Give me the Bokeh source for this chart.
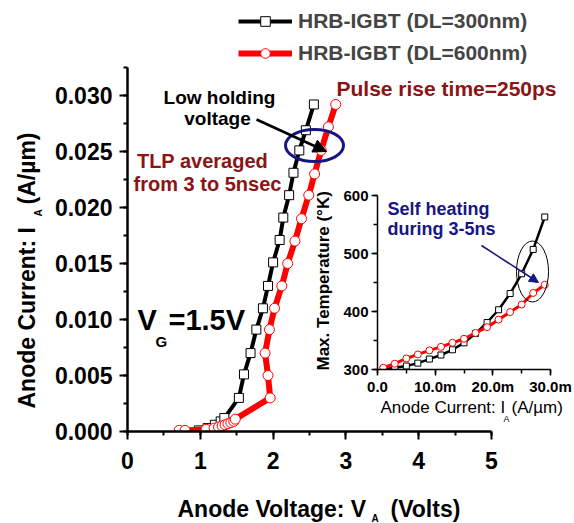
import math
from bokeh.plotting import figure
from bokeh.models import (FixedTicker, NumeralTickFormatter, Label, Arrow, NormalHead,
                          Legend, LegendItem, InlineStyleSheet)
from bokeh.embed import file_html
from bokeh.resources import INLINE

# ---------------- data ----------------
# main plot: anode voltage (V) vs anode current (A/um)
black_v = [0.98, 1.10, 1.20, 1.28, 1.33, 1.53, 1.60, 1.69, 1.77, 1.86, 1.93, 2.00,
           2.09, 2.14, 2.22, 2.28, 2.36, 2.45, 2.56]
black_i = [0.0001, 0.0003, 0.0006, 0.0009, 0.0012, 0.0030, 0.0051, 0.0070, 0.0091,
           0.0110, 0.0130, 0.0151, 0.0171, 0.0191, 0.0211, 0.0231, 0.0251, 0.0269, 0.0292]
red_v = [0.71, 0.79, 1.08, 1.19, 1.25, 1.30, 1.34, 1.38, 1.42, 1.46, 1.48, 1.96, 1.93,
         1.89, 1.95, 2.02, 2.12, 2.20, 2.30, 2.39, 2.49, 2.57, 2.66, 2.76, 2.86]
red_i = [0.0001, 0.0001, 0.0002, 0.0003, 0.0004, 0.0005, 0.0006, 0.0007, 0.0008, 0.0009,
         0.0011, 0.0030, 0.0050, 0.0070, 0.0091, 0.0110, 0.0130, 0.0150, 0.0170, 0.0190,
         0.0211, 0.0230, 0.0251, 0.0272, 0.0292]
x_ticks = [0, 1, 2, 3, 4, 5]
y_ticks = [0.0, 0.005, 0.010, 0.015, 0.020, 0.025, 0.030]

# inset: anode current (A/um) vs max temperature (K)
inset_i = [0.001, 0.003, 0.005, 0.007, 0.009, 0.011, 0.013, 0.015, 0.017, 0.019,
           0.021, 0.023, 0.025, 0.027, 0.029]
inset_black_t = [300.5, 303, 306, 311, 318, 325, 334, 346, 362, 381, 403, 431, 465, 507, 563]
inset_red_t = [303, 310, 319, 326, 333, 339, 346, 353, 363, 373, 386, 399, 412, 432, 446]
inset_x_ticks = [0.0, 0.01, 0.02, 0.03]
inset_x_labels = ["0.0", "10.0m", "20.0m", "30.0m"]
inset_y_ticks = [300, 400, 500, 600]

labels = ["HRB-IGBT (DL=300nm)", "HRB-IGBT (DL=600nm)"]

FONT = "Liberation Sans"
DARKRED = "#8b1414"
NAVY = "#161683"

W, H = 574, 523

def place(fig, left, top):
    fig.stylesheets = [InlineStyleSheet(
        css=":host { position: absolute !important; left: %dpx !important; top: %dpx !important; }"
        % (left, top))]

# ---------------- main figure ----------------
# frame covers x 127..574 and y 0..431; axes are bounded to the data extent
FL, FB = 127, 431
PX_X5, PX_Y0325 = 491, 67          # pixel of V=5 and of I=0.0325
XMAX, YMAX = 5.0, 0.0325
sx = XMAX / (PX_X5 - FL)
sy = YMAX / (FB - PX_Y0325)

def mx(px):
    return (px - FL) * sx

def my(py):
    return (FB - py) * sy

p = figure(width=W, height=H, x_range=(0, mx(W)), y_range=(0, my(0)),
           output_backend="svg", toolbar_location=None,
           min_border_left=FL, min_border_right=0,
           min_border_top=0, min_border_bottom=H - FB)
p.outline_line_color = None
p.xgrid.visible = False
p.ygrid.visible = False
p.background_fill_color = None
p.border_fill_color = "white"

for ax in (p.xaxis[0], p.yaxis[0]):
    ax.axis_line_width = 2.5
    ax.major_tick_line_width = 2
    ax.minor_tick_line_width = 2
    ax.major_tick_in = 0
    ax.major_tick_out = 8
    ax.minor_tick_in = 0
    ax.minor_tick_out = 4
    ax.major_label_text_font = FONT
    ax.major_label_text_font_style = "bold"
    ax.major_label_text_font_size = "23px"
    ax.major_label_text_color = "black"

p.xaxis.bounds = (0, XMAX)
p.yaxis.bounds = (0, YMAX)
p.xaxis.ticker = FixedTicker(ticks=x_ticks, minor_ticks=[i * 0.5 for i in range(11)])
p.yaxis.ticker = FixedTicker(ticks=y_ticks, minor_ticks=[i * 0.0025 for i in range(14)])
p.yaxis.formatter = NumeralTickFormatter(format="0.000")
p.xaxis.major_label_standoff = 12
p.yaxis.major_label_standoff = 7

rb_line = p.line(black_v, black_i, line_color="black", line_width=4)
rb_pts = p.scatter(black_v, black_i, marker="square", size=9, fill_color="white",
                   line_color="black", line_width=1)
rr_line = p.line(red_v, red_i, line_color="red", line_width=6)
rr_pts = p.scatter(red_v, red_i, marker="circle", size=10, fill_color="white",
                   line_color="red", line_width=1)

legend = Legend(items=[LegendItem(label=labels[0], renderers=[rb_line, rb_pts]),
                       LegendItem(label=labels[1], renderers=[rr_line, rr_pts])],
                location=(238 - FL, FB - 65), orientation="vertical",
                glyph_width=54, glyph_height=24, label_height=24, spacing=8,
                padding=0, margin=0, label_standoff=6,
                label_text_font=FONT, label_text_font_style="bold",
                label_text_font_size="21px", background_fill_alpha=0,
                border_line_color=None)
p.add_layout(legend)

p.add_layout(Arrow(end=NormalHead(size=13, fill_color="black", line_color="black"),
                   x_start=mx(256), y_start=my(119), x_end=mx(326), y_end=my(151),
                   line_color="black", line_width=2.5))
p.ellipse(x=[mx(314)], y=[my(145)], width=58 * sx, height=32 * sy,
          fill_color=None, line_color=NAVY, line_width=3)
place(p, 0, 0)

# ---------------- inset figure ----------------
IL, IR, IT, IB = 377, 550, 195, 369
OX, OY = 308, 183
IW, IH = 266, 242
XI_MAX = 0.03
YI_MIN, YI_MAX = 300, 600
isx = XI_MAX / (IR - IL)
isy = (YI_MAX - YI_MIN) / (IB - IT)

def ix(px):
    return (px - IL) * isx

def iy(py):
    return YI_MIN + (IB - py) * isy

q = figure(width=IW, height=IH, x_range=(0, XI_MAX), y_range=(YI_MIN, YI_MAX),
           output_backend="svg", toolbar_location=None,
           min_border_left=IL - OX, min_border_right=IW - (IR - OX),
           min_border_top=IT - OY, min_border_bottom=IH - (IB - OY))
q.outline_line_color = None
q.xgrid.visible = False
q.ygrid.visible = False
q.background_fill_color = None
q.border_fill_color = None

for ax in (q.xaxis[0], q.yaxis[0]):
    ax.axis_line_width = 1.5
    ax.major_tick_line_width = 1.5
    ax.minor_tick_line_width = 1.5
    ax.major_tick_in = 0
    ax.major_tick_out = 6
    ax.minor_tick_in = 0
    ax.minor_tick_out = 4
    ax.major_label_text_font = FONT
    ax.major_label_text_font_style = "bold"
    ax.major_label_text_font_size = "15px"
    ax.major_label_text_color = "black"
q.xaxis.ticker = FixedTicker(ticks=inset_x_ticks, minor_ticks=[i * 0.005 for i in range(7)])
q.xaxis.major_label_overrides = {t: s for t, s in zip(inset_x_ticks, inset_x_labels)}
q.yaxis.ticker = FixedTicker(ticks=inset_y_ticks, minor_ticks=[300 + 50 * i for i in range(7)])
q.xaxis.major_label_standoff = 2
q.yaxis.major_label_standoff = 3

q.line(inset_i, inset_black_t, line_color="black", line_width=2.5)
q.scatter(inset_i, inset_black_t, marker="square", size=6, fill_color="white",
          line_color="black", line_width=1)
q.line(inset_i, inset_red_t, line_color="red", line_width=3)
q.scatter(inset_i, inset_red_t, marker="circle", size=7, fill_color="white",
          line_color="red", line_width=1)

q.add_layout(Arrow(end=NormalHead(size=9, fill_color=NAVY, line_color=NAVY),
                   x_start=ix(481), y_start=iy(245), x_end=ix(538), y_end=iy(282),
                   line_color=NAVY, line_width=1.5))
q.ellipse(x=[ix(532)], y=[iy(271)], width=32 * isx, height=61 * isy,
          fill_color=None, line_color="black", line_width=1)
place(q, OX, OY)

# ---------------- text overlay (pixel coordinates, y downwards) ----------------
r = figure(width=W, height=H, x_range=(0, W), y_range=(H, 0),
           output_backend="svg", toolbar_location=None,
           x_axis_location=None, y_axis_location=None,
           min_border_left=0, min_border_right=0, min_border_top=0, min_border_bottom=0)
r.outline_line_color = None
r.xgrid.visible = False
r.ygrid.visible = False
r.background_fill_color = None
r.border_fill_color = None

def lab(x, y, text, size, color="black", style="bold", align="left", angle=0.0):
    r.add_layout(Label(x=x, y=y, text=text, text_font=FONT, text_font_style=style,
                       text_font_size=size, text_color=color, text_align=align,
                       text_baseline="middle", angle=angle))

# main axis titles (with subscripts); y values are text middles
lab(177, 508, "Anode Voltage: V", "23px")
lab(371, 518, "A", "10px")
lab(390, 508, "(Volts)", "23px")
lab(26, 408, "Anode Current: I", "23px", angle=math.pi / 2)
lab(38, 216, "A", "10px", angle=math.pi / 2)
lab(26, 204, "(A/\u00b5m)", "23px", angle=math.pi / 2)

# main annotations
lab(219, 97, "Low holding", "19px", align="center")
lab(217, 118, "voltage", "19px", align="center")
lab(202, 160, "TLP averaged", "20px", color=DARKRED, align="center")
lab(207, 183, "from 3 to 5nsec", "20px", color=DARKRED, align="center")
lab(336, 88, "Pulse rise time=250ps", "21px", color=DARKRED)
lab(137, 319, "V", "29px")
lab(155, 341, "G", "15px")
lab(168, 319, "=1.5V", "29px")

# inset titles and annotations
lab(380, 407, "Anode Current: I", "17px", style="normal")
lab(503, 418, "A", "9px", style="normal")
lab(511, 407, "(A/\u00b5m)", "17px", style="normal")
lab(323, 370, "Max. Temperature (\u00b0K)", "17px", angle=math.pi / 2)
lab(387, 208, "Self heating", "18px", color=NAVY)
lab(387, 228, "during 3-5ns", "18px", color=NAVY)
place(r, 0, 0)

open("out.html", "w").write(file_html([p, q, r], INLINE))
